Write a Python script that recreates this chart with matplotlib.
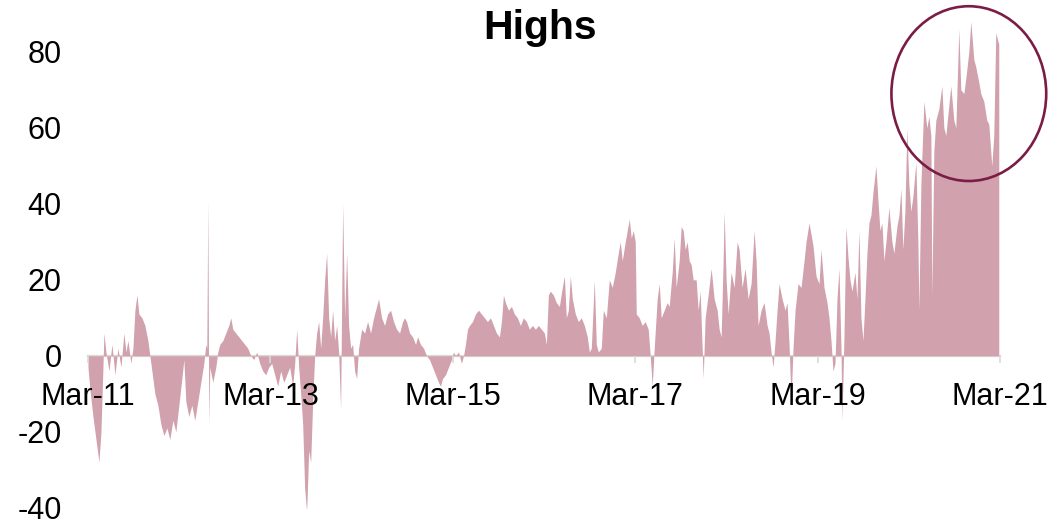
import numpy as np
import pandas as pd
import matplotlib
matplotlib.use('Agg')
import matplotlib.pyplot as plt
import matplotlib.dates as mdates
from matplotlib.patches import Ellipse

plt.rcParams['font.family'] = ['Liberation Sans', 'DejaVu Sans']
plt.rcParams['axes.unicode_minus'] = False

# ------------------------------------------------------------
# Net new highs, days counted from 1 Mar 2011
# ------------------------------------------------------------
START = pd.Timestamp('2011-03-01')

days_11_13 = [0, 8, 20, 32, 44, 52, 60, 64, 72, 84, 96, 108, 120, 132, 144, 152, 160,
              172, 180, 188, 196, 204, 216, 228, 240, 248,
              256, 268, 280, 292, 304, 316, 328, 340, 352, 364, 376, 384, 392, 404,
              416, 428, 440, 452, 464, 472, 476, 480, 484, 488, 500, 512, 520,
              528, 540, 552, 564, 572, 580, 592, 604, 616, 628, 640, 652, 664, 676,
              688, 700, 712, 724]
vals_11_13 = [-3, -9, -16, -22, -28, -20, -3, 6, 1, -4, 3, -5, 2, -3, 6, 1, 4,
              -2, 2, 12, 16, 11, 10, 8, 4, 0,
              -4, -10, -13, -18, -21, -19, -22, -17, -20, -13, -6, -1, -12, -16,
              -13, -17, -12, -7, -2, 3, 2, 41, -18, -3, -7, -3, 1,
              3, 4, 6, 8, 10, 7, 6, 5, 4, 3, 2, 0, -1, 1,
              -2, -4, -5, -3]

days_13_15 = [736, 748, 760, 772, 784, 796, 808, 820, 828, 836, 844,
              852, 860, 868, 876, 884, 892, 900, 908, 916, 924, 932, 940, 948, 956,
              964, 972, 980, 988, 996, 1004, 1012, 1020, 1028, 1036, 1044, 1052,
              1060, 1068, 1076, 1084,
              1096, 1108, 1120, 1132, 1144, 1156, 1164, 1176, 1188, 1200, 1212, 1224,
              1236, 1248, 1260, 1268, 1276, 1288, 1300, 1312, 1320, 1332, 1344, 1356,
              1368, 1380, 1392, 1404, 1412, 1420, 1432, 1444, 1456]
vals_13_15 = [-2, -5, -8, -4, -7, -5, -3, -8, -2, 7, -3,
              -10, -18, -35, -41, -25, -28, -12, 0, 6, 9, 2, 10, 20, 27,
              10, 5, 12, 4, 8, 1, -14, 40, 10, 27, 8, 2,
              3, -4, -6, 2,
              7, 6, 9, 6, 10, 13, 15, 10, 8, 11, 12, 9,
              7, 6, 9, 10, 9, 6, 5, 3, 5, 3, 2, 0,
              -1, -3, -5, -7, -8, -6, -5, -3, -1]

days_15_17 = [1464, 1472, 1484, 1496, 1504,
              1512, 1520, 1528, 1540, 1552, 1564, 1576, 1588, 1600, 1612, 1624, 1636,
              1648, 1656, 1664, 1672, 1684, 1696, 1708, 1720, 1732, 1744, 1756, 1768,
              1780, 1792, 1804, 1816, 1828, 1836, 1844, 1852, 1864, 1876, 1888, 1900,
              1908, 1916, 1924, 1932, 1940, 1952, 1964, 1976, 1988, 2000, 2008, 2016,
              2028, 2036, 2044,
              2056, 2064, 2076, 2088, 2100, 2112, 2124, 2132, 2140, 2152, 2160, 2168,
              2176, 2184, 2192]
vals_15_17 = [1, 0, 1, -2, 0,
              3, 7, 8, 9, 11, 12, 11, 10, 9, 10, 8, 6,
              5, 9, 16, 14, 12, 13, 11, 10, 8, 10, 9, 7,
              8, 7, 8, 7, 6, 3, 16, 17, 16, 14, 13, 18,
              21, 10, 12, 21, 15, 11, 9, 10, 8, 5, 1, 2,
              20, 3, 1,
              2, 12, 10, 20, 18, 22, 27, 30, 25, 30, 33, 36,
              31, 33, 30]

days_17_19 = [2196, 2208, 2220, 2232, 2244, 2252, 2260, 2268, 2280, 2288, 2296,
              2308, 2320, 2328, 2340, 2348, 2356, 2368, 2376, 2384, 2392, 2400, 2408,
              2416, 2424, 2436, 2444,
              2452, 2460, 2464, 2472, 2484, 2496, 2508, 2520, 2528, 2536, 2544, 2548,
              2556, 2564, 2576, 2588, 2600, 2608, 2620, 2632, 2644, 2656, 2668, 2676,
              2684, 2696, 2708, 2720, 2728, 2736, 2744, 2752, 2760, 2768, 2780, 2792,
              2800, 2808, 2816, 2824, 2832, 2844, 2856, 2868, 2876, 2888, 2896, 2904]
vals_17_19 = [11, 10, 8, 9, 7, 0, -8, 2, 15, 19, 10,
              12, 14, 13, 22, 31, 18, 25, 34, 33, 28, 30, 25,
              24, 20, 20, 12,
              17, 2, -6, 10, 16, 23, 15, 12, 7, 5, 25, 38,
              20, 11, 22, 18, 30, 28, 18, 23, 15, 19, 33, 25,
              8, 12, 14, 8, 6, 1, -3, 4, 12, 19, 15, 12,
              14, 3, -12, 2, 12, 19, 18, 25, 30, 35, 32, 29]

days_19_21 = [2916, 2928, 2936, 2948, 2960, 2968, 2976, 2984, 2992, 3000, 3008,
              3016, 3020, 3028, 3036,
              3044, 3052, 3060, 3072, 3080, 3088, 3096, 3104, 3112, 3120, 3128, 3136,
              3144, 3156, 3164, 3172, 3180, 3188, 3196, 3208, 3220, 3228, 3240, 3248,
              3256, 3264, 3272, 3280, 3288, 3296, 3304, 3316, 3324, 3328, 3336, 3348,
              3360, 3368, 3376, 3380, 3388, 3396, 3408, 3420, 3428, 3436, 3448, 3456,
              3468, 3476, 3488, 3496, 3508, 3516, 3528, 3536, 3548, 3556, 3568, 3576,
              3588, 3600, 3608, 3620, 3628, 3636, 3644, 3648]
vals_19_21 = [21, 19, 28, 18, 14, 10, 4, -4, -2, 15, 23,
              2, -17, 5, 34,
              26, 20, 17, 22, 15, 33, 10, 4, 15, 27, 35, 37,
              43, 50, 41, 33, 35, 25, 30, 39, 30, 27, 34, 37,
              44, 28, 38, 60, 45, 38, 42, 51, 30, 12, 45, 67,
              60, 63, 58, 16, 54, 62, 65, 71, 60, 58, 66, 71,
              62, 60, 86, 70, 69, 73, 80, 88, 78, 76, 72, 69,
              67, 62, 61, 50, 58, 85, 83, 82]

days = np.array(days_11_13 + days_13_15 + days_15_17 + days_17_19 + days_19_21)
vals = np.array(vals_11_13 + vals_13_15 + vals_15_17 + vals_17_19 + vals_19_21, dtype=float)
dates = START + pd.to_timedelta(days, unit='D')

tick_dates = pd.to_datetime(['2011-03-01', '2013-03-01', '2015-03-01',
                             '2017-03-01', '2019-03-01', '2021-03-01'])
y_ticks = [-40, -20, 0, 20, 40, 60, 80]

# highlighted recent period (centre in days from start, value)
HILITE_DAY = 3528
HILITE_VAL = 69
HILITE_W_DAYS = 620
HILITE_H = 46

FILL = '#D1A1AD'
AXIS_GRAY = '#D9D9D9'
MAROON = '#7B1C45'

# ------------------------------------------------------------
# Plot
# ------------------------------------------------------------
fig = plt.figure(figsize=(10.51, 5.2), dpi=100)
ax = fig.add_axes([0.0837, 0.0235, 0.8678, 1.023])

ax.fill_between(dates, 0, vals, color=FILL, linewidth=0)

ax.set_xlim(pd.Timestamp('2011-03-01'), pd.Timestamp('2021-03-01'))
ax.set_ylim(-40, 100)

ax.set_xticks(tick_dates)
ax.xaxis.set_major_formatter(mdates.DateFormatter('%b-%y'))
ax.set_yticks(y_ticks)

for side in ['top', 'right', 'left']:
    ax.spines[side].set_visible(False)
ax.spines['bottom'].set_position(('data', 0))
ax.spines['bottom'].set_color(AXIS_GRAY)
ax.spines['bottom'].set_linewidth(1.6)
ax.spines['bottom'].set_zorder(0.5)

ax.tick_params(axis='x', direction='out', length=5, width=1.2, color=AXIS_GRAY,
               pad=14, labelsize=22)
ax.tick_params(axis='y', length=0, pad=19, labelsize=22)
for lab in ax.get_yticklabels():
    lab.set_horizontalalignment('right')

# circle round the latest run of highs
centre = mdates.date2num(START + pd.Timedelta(days=HILITE_DAY))
ax.add_patch(Ellipse((centre, HILITE_VAL), HILITE_W_DAYS, HILITE_H,
                     fill=False, edgecolor=MAROON, linewidth=1.9, clip_on=False))

fig.text(540 / 1051, 1 - 28 / 520, 'Highs', ha='center', va='center',
         fontsize=29.5, fontweight='bold')

fig.savefig('out.png', dpi=100)
